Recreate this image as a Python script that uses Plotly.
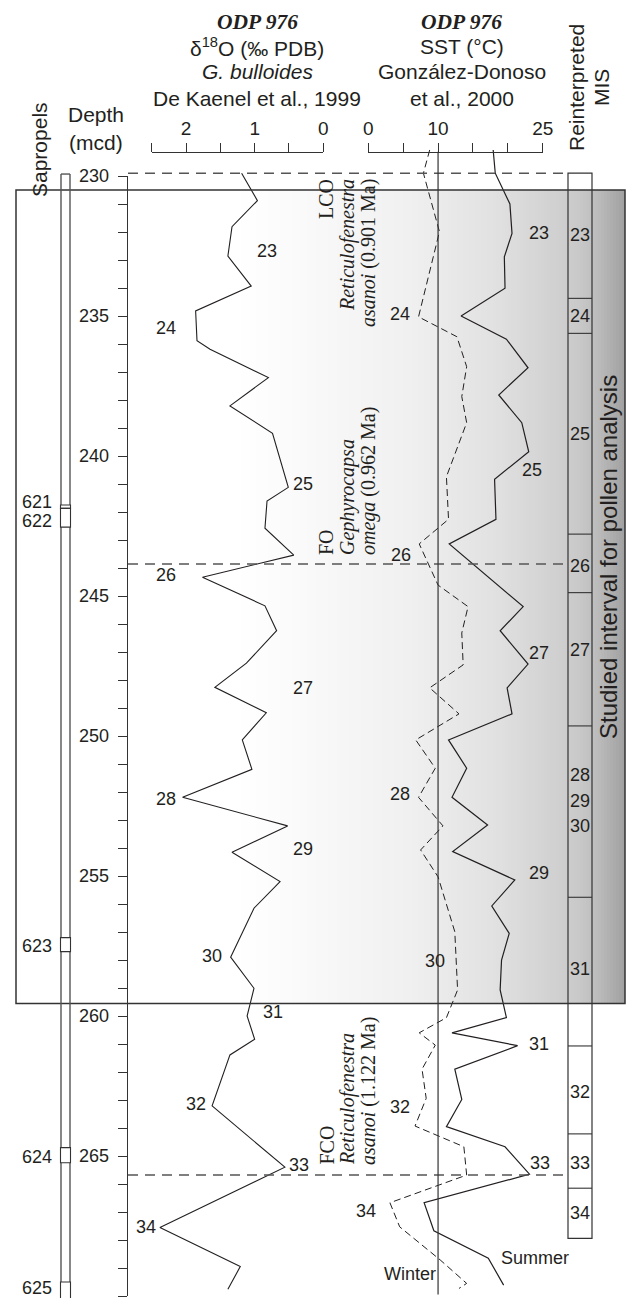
import numpy as np
import plotly.graph_objects as go

W, H = 630, 1298

# ---------------- data ----------------
d18o_depth = [229.9, 230.88, 231.81, 232.86, 233.93, 234.82, 235.88, 236.19, 237.20, 238.21,
              239.19, 241.12, 241.61, 242.58, 243.54, 244.33, 245.35, 246.24, 247.40, 248.26,
              249.17, 250.14, 251.19, 252.19, 253.21, 254.15, 255.20, 256.15, 257.90, 259.01,
              260.00, 260.83, 261.39, 263.21, 265.40, 267.55, 268.95, 269.76]
d18o_val = [1.19, 0.96, 1.33, 1.39, 1.05, 1.86, 1.84, 1.65, 0.80, 1.36,
            0.74, 0.51, 0.82, 0.85, 0.43, 1.76, 0.85, 0.68, 1.12, 1.58,
            0.83, 1.18, 1.04, 2.05, 0.52, 1.33, 0.63, 1.01, 1.35, 1.01,
            1.11, 1.00, 1.36, 1.62, 0.56, 2.38, 1.21, 1.39]

sst_summer_depth = [229.07, 229.90, 231.00, 232.05, 232.89, 234.01, 235.00, 235.83, 236.85, 237.82,
                    238.81, 239.85, 240.83, 242.26, 243.14, 245.38, 246.24, 247.43, 248.28, 249.21,
                    250.14, 251.15, 252.19, 253.18, 254.13, 255.14, 256.07, 257.05, 258.00, 259.07,
                    260.06, 260.60, 261.06, 261.90, 262.98, 263.95, 264.67, 265.65, 266.67, 267.67,
                    268.65, 269.61]
sst_summer = [17.9, 18.2, 20.3, 20.6, 19.5, 19.6, 13.3, 19.8, 22.9, 18.7,
              22.0, 23.0, 18.1, 18.3, 11.6, 22.2, 18.9, 22.9, 19.9, 20.6,
              11.5, 14.1, 12.0, 17.1, 12.1, 21.0, 17.7, 20.2, 19.1, 18.9,
              19.8, 12.0, 21.4, 12.4, 13.4, 11.2, 19.6, 23.1, 8.0, 9.4,
              17.2, 19.4]

sst_winter_depth = [229.07, 229.90, 231.99, 235.03, 235.74, 236.81, 237.88, 238.81, 240.74, 242.26,
                    243.14, 244.61, 245.38, 246.32, 247.46, 248.28, 249.21, 250.14, 251.15, 252.19,
                    253.21, 254.07, 255.03, 256.99, 259.07, 260.06, 260.60, 261.04, 261.90, 262.94,
                    263.93, 264.67, 265.68, 266.67, 267.53, 268.71, 269.55, 269.73]
sst_winter = [8.8, 7.9, 10.2, 7.2, 12.7, 14.1, 13.4, 14.1, 11.2, 11.5,
              7.3, 10.0, 14.3, 13.4, 13.6, 8.8, 13.0, 6.8, 9.6, 7.2,
              10.7, 7.5, 10.0, 12.4, 12.8, 11.2, 7.3, 9.6, 7.7, 8.3,
              6.7, 13.7, 14.1, 3.1, 4.5, 10.3, 14.1, 13.0]

depth_ticks = [230, 235, 240, 245, 250, 255, 260, 265, 270]
depth_minor = list(range(230, 271))
d18o_tick_vals = [2, 1, 0]
d18o_minor_vals = [2.5, 1.5, 0.5]
sst_tick_vals = [0, 10, 25]
sst_minor_vals = [5, 15, 20]
sst_reference = 10

# biostratigraphic events (depth, mcd)
event_depths = [229.9, 243.86, 265.68]
studied_top, studied_bottom = 230.5, 259.55

# reinterpreted MIS column
mis_top, mis_bottom = 229.9, 267.94
mis_boundaries = [234.37, 235.62, 242.79, 244.88, 249.64, 255.76, 261.07, 264.21, 266.15]
mis_labels = ["23", "24", "25", "26", "27", "28", "29", "30", "31", "32", "33", "34"]
mis_label_depths = [232.11, 235.0, 239.21, 243.93, 246.93, 251.39, 252.31, 253.21,
                    258.33, 262.70, 265.24, 267.05]

# sapropels
sapropel_names = ["621", "622", "623", "624", "625"]
sapropel_top = [241.75, 241.87, 257.2, 264.7, 269.5]
sapropel_bottom = [241.87, 242.54, 257.7, 265.24, 270.1]
sapropel_label_depths = [241.63, 242.32, 257.5, 265.03, 269.72]

# MIS labels along the curves
d18o_mis_text = ["23", "24", "25", "26", "27", "28", "29", "30", "31", "32", "33", "34"]
d18o_mis_x = [0.825, 2.296, 0.30, 2.296, 0.30, 2.296, 0.30, 1.626, 0.737, 1.855, 0.35, 2.583]
d18o_mis_depth = [232.67, 235.44, 241.0, 244.25, 248.30, 252.26, 254.05, 257.86,
                  259.85, 263.14, 265.32, 267.53]
sst_mis_text = ["23", "24", "25", "26", "27", "28", "29", "30", "31", "32", "33", "34", "Summer", "Winter"]
sst_mis_x = [24.5, 4.54, 23.4, 4.64, 24.5, 4.54, 24.5, 9.56, 24.5, 4.54, 24.6, -0.33, 23.9, 5.98]
sst_mis_depth = [232.03, 234.93, 240.5, 243.54, 247.03, 252.07, 254.90, 258.03,
                 261.0, 263.26, 265.26, 266.95, 268.65, 269.21]

# ---------------- geometry helpers ----------------
def X(px):
    return px / W

def Y(py):
    return 1 - py / H

# pixel mapping (layout): depth 230 at y=176, 28 px per m
Y0, PPM = 176.0, 28.0
y_range = [230 + (H - Y0) / PPM, 230 - Y0 / PPM]
# d18O: 0 at x=323.3, 68.64 px per permil (reversed)
D0, DPX = 323.3, 68.64
x_range = [D0 / DPX, (D0 - W) / DPX]
# SST: 0 at x=368.3, 6.976 px per degC
S0, SPX = 368.3, 6.976
x2_range = [-S0 / SPX, (W - S0) / SPX]

INK = "#231f20"
AX = "#333333"
SANS = "Arial, Liberation Sans, sans-serif"
SERIF = "Times New Roman, Liberation Serif, serif"

fig = go.Figure()

fig.add_trace(go.Scatter(x=d18o_val, y=d18o_depth, mode="lines", xaxis="x", yaxis="y",
                         line=dict(color=INK, width=1.1), hoverinfo="skip"))
fig.add_trace(go.Scatter(x=sst_summer, y=sst_summer_depth, mode="lines", xaxis="x2", yaxis="y",
                         line=dict(color=INK, width=1.2), hoverinfo="skip"))
fig.add_trace(go.Scatter(x=sst_winter, y=sst_winter_depth, mode="lines", xaxis="x2", yaxis="y",
                         line=dict(color=INK, width=1.0, dash="7px,4px"), hoverinfo="skip"))
# dummy traces so the visible axes are drawn
fig.add_trace(go.Scatter(x=[None], y=[None], xaxis="x3", yaxis="y", hoverinfo="skip"))
fig.add_trace(go.Scatter(x=[None], y=[None], xaxis="x4", yaxis="y", hoverinfo="skip"))
fig.add_trace(go.Scatter(x=[None], y=[None], xaxis="x5", yaxis="y2", hoverinfo="skip"))

hidden = dict(visible=False, showgrid=False, zeroline=False, automargin=False)
top_axis_y = Y(151.7)

def top_axis(domain, rng, vals, minor_vals):
    return dict(domain=domain, range=rng, anchor="free", position=top_axis_y, automargin=False,
                side="top", showline=True, linecolor=AX, linewidth=1.2, ticks="outside",
                ticklen=9, tickwidth=1.2, tickcolor=AX, tickmode="array",
                tickvals=vals, ticktext=[f"{v:g}" for v in vals], showgrid=False, zeroline=False,
                tickfont=dict(size=19, family=SANS, color=INK), ticklabelstandoff=0,
                minor=dict(tickmode="array", tickvals=minor_vals, ticks="outside", ticklen=9,
                           tickwidth=1.2, tickcolor=AX, showgrid=False))

fig.update_layout(
    width=W, height=H, autosize=False,
    margin=dict(l=0, r=0, t=0, b=0, pad=0, autoexpand=False),
    paper_bgcolor="white", plot_bgcolor="rgba(0,0,0,0)", showlegend=False,
    font=dict(family=SANS, color=INK),
    xaxis=dict(domain=[0, 1], range=x_range, anchor="y", **hidden),
    xaxis2=dict(domain=[0, 1], range=x2_range, overlaying="x", anchor="y", **hidden),
    xaxis5=dict(domain=[0, 1], range=[0, 1], anchor="y2", **hidden),
    yaxis=dict(domain=[0, 1], range=y_range, anchor="x", **hidden),
    xaxis3=top_axis([X(151.7), X(323.3)], [2.5, 0], d18o_tick_vals, d18o_minor_vals),
    xaxis4=top_axis([X(368.3), X(542.7)], [0, 25], sst_tick_vals, sst_minor_vals),
    yaxis2=dict(domain=[Y(1296), Y(176)], range=[270, 230], anchor="free", position=X(126.7),
                automargin=False,
                side="left", showline=True, linecolor=AX, linewidth=1.3, ticks="outside",
                ticklen=9, tickwidth=1.3, tickcolor=AX, tickmode="array", tickvals=depth_ticks,
                showgrid=False, zeroline=False, tickfont=dict(size=18, family=SANS, color=INK),
                ticklabelstandoff=5,
                minor=dict(tickmode="array", tickvals=depth_minor, ticks="outside", ticklen=9,
                           tickwidth=1.3, tickcolor=AX, showgrid=False)),
)

shapes = []
# gradient background of the studied interval
gx = [235, 300, 410, 500, 560, 580, 600, 625]
gl = [255, 250, 240, 224, 207, 200, 186, 160]
step = 3
for x0 in np.arange(235, 625, step):
    x1 = min(x0 + step + 0.6, 625)
    L = int(round(np.interp(x0 + step / 2, gx, gl)))
    shapes.append(dict(type="rect", xref="paper", yref="y", x0=X(x0), x1=X(x1),
                       y0=studied_top, y1=studied_bottom, fillcolor=f"rgb({L},{L},{L})",
                       line=dict(width=0), layer="below"))
# studied interval outline
shapes.append(dict(type="rect", xref="paper", yref="y", x0=X(16), x1=X(625),
                   y0=studied_top, y1=studied_bottom, line=dict(color=AX, width=1.5),
                   fillcolor="rgba(0,0,0,0)", layer="above"))
# sapropel column
for xp in (61, 70):
    shapes.append(dict(type="line", xref="paper", yref="y", x0=X(xp), x1=X(xp),
                       y0=229.93, y1=y_range[0], line=dict(color="#555555", width=1.4)))
shapes.append(dict(type="line", xref="paper", yref="y", x0=X(61), x1=X(70),
                   y0=229.93, y1=229.93, line=dict(color="#555555", width=1.4)))
for t, b in zip(sapropel_top, sapropel_bottom):
    shapes.append(dict(type="rect", xref="paper", yref="y", x0=X(60.5), x1=X(70.5),
                       y0=t, y1=b, line=dict(color="#333333", width=1.1), fillcolor="white"))
# biostratigraphic event lines
for d in event_depths:
    shapes.append(dict(type="line", xref="paper", yref="y", x0=X(128), x1=X(567), y0=d, y1=d,
                       line=dict(color="#555555", width=1.5, dash="10px,7px")))
# SST reference line
shapes.append(dict(type="line", xref="x2", yref="y", x0=sst_reference, x1=sst_reference,
                   y0=229.13, y1=269.95, line=dict(color=AX, width=1.2)))
# MIS column
shapes.append(dict(type="rect", xref="paper", yref="y", x0=X(568), x1=X(592),
                   y0=mis_top, y1=mis_bottom, line=dict(color=AX, width=1.2),
                   fillcolor="rgba(0,0,0,0)"))
for d in mis_boundaries:
    shapes.append(dict(type="line", xref="paper", yref="y", x0=X(568), x1=X(592), y0=d, y1=d,
                       line=dict(color=AX, width=1.1)))
fig.update_layout(shapes=shapes)

ann = []

def txt(x, y, s, size=18, family=SANS, xanchor="center", yanchor="middle", angle=0,
        xref="paper", yref="paper", align="center"):
    ann.append(dict(x=x, y=y, xref=xref, yref=yref, text=s, showarrow=False,
                    font=dict(size=size, family=family, color=INK), xanchor=xanchor,
                    yanchor=yanchor, textangle=angle, align=align))

# headers
for cx, lines in ((257, ["<b><i>ODP 976</i></b>", "δ<sup>18</sup>O (‰ PDB)", "<i>G. bulloides</i>",
                         "De Kaenel et al., 1999"]),
                  (462, ["<b><i>ODP 976</i></b>", "SST (°C)", "González-Donoso", "et al., 2000"])):
    for i, (yy, s) in enumerate(zip([22, 47, 72, 98], lines)):
        txt(X(cx), Y(yy), s, size=21.5 if i == 0 else 21, family=SERIF if i == 0 else SANS)
txt(X(96), Y(115), "Depth", size=21)
txt(X(96), Y(142), "(mcd)", size=21)
txt(X(39), Y(150), "Sapropels", size=21, angle=-90)
txt(X(576), Y(88), "Reinterpreted", size=21, angle=-90)
txt(X(601), Y(88), "MIS", size=21, angle=-90)
txt(X(608), Y(741), "Studied interval for pollen analysis", size=24, angle=-90, yanchor="bottom")

# biostratigraphic event labels
bio = [
    (Y(177), "top", ["LCO", "<i>Reticulofenestra</i>", "<i>asanoi</i> (0.901 Ma)"]),
    (Y(557), "bottom", ["FO", "<i>Gephyrocapsa</i>", "<i>omega</i> (0.962 Ma)"]),
    (Y(1167), "bottom", ["FCO", "<i>Reticulofenestra</i>", "<i>asanoi</i> (1.122 Ma)"]),
]
for yy, ya, lines in bio:
    for xx, s in zip([326, 347, 368], lines):
        txt(X(xx), yy, s, size=20, family=SERIF, angle=-90, yanchor=ya)

# sapropel names
for s, d in zip(sapropel_names, sapropel_label_depths):
    txt(X(54), d, s, size=18, xanchor="right", yref="y")
# MIS column labels
for s, d in zip(mis_labels, mis_label_depths):
    txt(X(580), d, s, size=18, yref="y")
# curve labels
for s, xv, d in zip(d18o_mis_text, d18o_mis_x, d18o_mis_depth):
    txt(xv, d, s, size=18, xref="x", yref="y")
for s, xv, d in zip(sst_mis_text, sst_mis_x, sst_mis_depth):
    txt(xv, d, s, size=18, xref="x2", yref="y")

fig.update_layout(annotations=ann)
fig.write_html("out.html", config={"displayModeBar": False},
               post_script="document.body.style.margin='0px';document.body.style.overflow='hidden';")
